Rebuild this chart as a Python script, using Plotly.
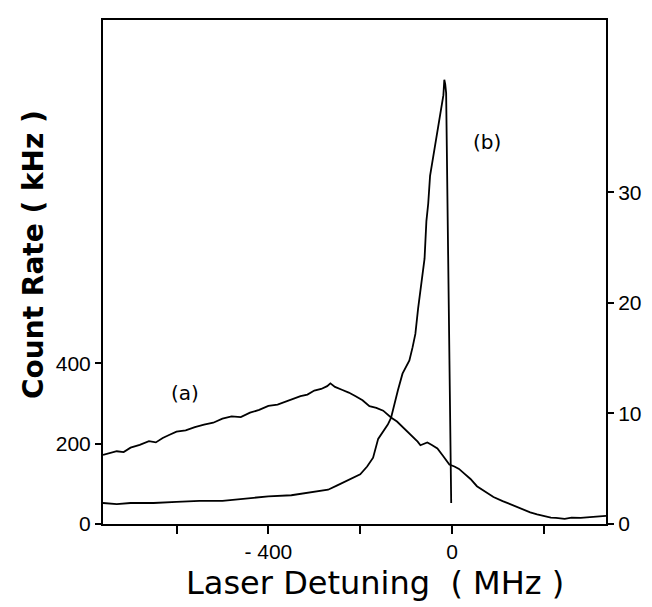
import plotly.graph_objects as go

# curve (a): count rate in kHz, left axis
detuning_a = [-760, -745, -730, -715, -700, -680, -660, -645, -630, -615,
              -600, -580, -560, -540, -520, -500, -480, -460, -440, -420,
              -400, -380, -360, -345, -330, -315, -300, -285, -272, -265,
              -255, -240, -225, -210, -195, -180, -165, -150, -133, -120,
              -110, -97, -85, -75, -69, -60, -54, -45, -32, -20, -6, 5,
              15, 26, 40, 54, 70, 90, 110, 133, 150, 170, 185, 200, 215,
              226, 245, 260, 280, 300, 320, 335]
rate_a = [172, 176, 181, 179, 190, 197, 206, 203, 214, 222,
          230, 233, 241, 247, 252, 262, 268, 266, 277, 284,
          294, 297, 305, 312, 318, 322, 332, 336, 343, 350,
          341, 334, 327, 318, 308, 293, 289, 282, 265, 255,
          244, 228, 217, 205, 196, 201, 203, 197, 188, 170, 148, 143,
          137, 126, 112, 94, 82, 67, 57, 46, 38, 29, 24, 20, 16,
          15, 13, 16, 15, 17, 18, 20]

# curve (b): count rate in kHz, right axis
detuning_b = [-760, -730, -700, -650, -600, -550, -500, -450, -400, -350,
              -300, -270, -250, -225, -200, -185, -172, -161, -150, -140,
              -133, -125, -118, -108, -100, -93, -86, -80, -74, -70, -64,
              -60, -56, -52, -48, -42, -36, -30, -26, -22, -19, -17, -15,
              -13, -2]
rate_b = [1.9, 1.8, 1.9, 1.9, 2.0, 2.1, 2.1, 2.3, 2.5, 2.6,
          2.9, 3.1, 3.5, 4.0, 4.5, 5.2, 6.0, 7.7, 8.4, 9.0,
          9.6, 11.0, 12.1, 13.6, 14.2, 14.8, 16.0, 17.2, 19.5, 20.8, 22.5,
          24.0, 27.4, 29.0, 31.5, 33.0, 34.5, 36.0, 37.2, 38.0, 38.8, 40.2, 39.8,
          39.0, 1.9]

x_ticks = [-600, -400, -200, 0, 200]
x_labels = ["", "- 400", "", "0", ""]
left_ticks = [0, 200, 400]
right_ticks = [0, 10, 20, 30]

font = "DejaVu Sans"
tick_font = dict(family="Liberation Sans", size=21, color="black")

# page body adds 8px, so the figure is a bit smaller than the window
W, H = 644, 599
L, R, T, B = 95, 40, 10, 83

fig = go.Figure()
fig.add_trace(go.Scatter(x=detuning_a, y=rate_a, mode="lines",
                         line=dict(color="black", width=1.8), showlegend=False))
fig.add_trace(go.Scatter(x=detuning_b, y=rate_b, mode="lines", yaxis="y2",
                         line=dict(color="black", width=1.8), showlegend=False))

fig.add_annotation(x=-581, y=327, text="(a)", showarrow=False,
                   font=dict(size=20, color="black", family=font))
fig.add_annotation(x=75, y=34.6, yref="y2", text="(b)", showarrow=False,
                   font=dict(size=20, color="black", family=font))

# axis titles placed by hand, like the original
fig.add_annotation(xref="paper", yref="paper", x=-0.138, y=0.535,
                   xanchor="center", yanchor="middle",
                   text="<b>Count Rate ( kHz )</b>", textangle=-90,
                   showarrow=False,
                   font=dict(size=28, color="black", family=font))
fig.add_annotation(xref="paper", yref="paper", x=0.54, y=-0.117,
                   xanchor="center", yanchor="middle",
                   text="Laser Detuning  ( MHz )", showarrow=False,
                   font=dict(size=32, color="black", family=font))

fig.update_layout(
    width=W, height=H,
    margin=dict(l=L, r=R, t=T, b=B),
    plot_bgcolor="white", paper_bgcolor="white",
    font=dict(family=font, color="black", size=18),
    xaxis=dict(range=[-760, 335], tickvals=x_ticks, ticktext=x_labels,
               ticks="outside", ticklen=8, tickwidth=2, tickcolor="black",
               showline=True, linecolor="black", linewidth=2, mirror=True,
               showgrid=False, zeroline=False, tickfont=tick_font),
    yaxis=dict(range=[0, 1254], tickvals=left_ticks, ticks="outside",
               ticklen=6, tickwidth=2, tickcolor="black",
               showline=True, linecolor="black", linewidth=2,
               showgrid=False, zeroline=False, tickfont=tick_font),
    yaxis2=dict(range=[0, 45.6], tickvals=right_ticks, overlaying="y",
                side="right", ticks="outside", ticklen=6, tickwidth=2,
                tickcolor="black", showline=True, linecolor="black",
                linewidth=2, showgrid=False, zeroline=False,
                tickfont=tick_font),
)

fig.write_html("out.html")
